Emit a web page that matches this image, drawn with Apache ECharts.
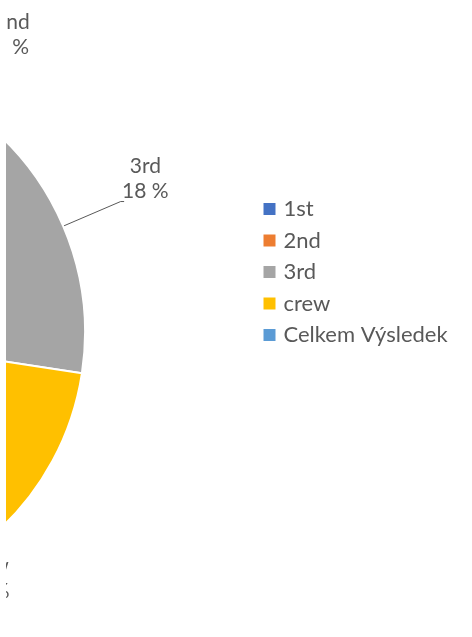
<!DOCTYPE html>
<html>
<head>
<meta charset="utf-8">
<script src="https://cdn.jsdelivr.net/npm/echarts@6/dist/echarts.min.js"></script>
<style>
  html, body { margin: 0; padding: 0; background: #ffffff; }
  #chart { position: absolute; left: 0; top: 0; width: 472px; height: 637px; clip-path: inset(0 0 0 6px); }
</style>
</head>
<body>
<div id="chart"></div>
<script>
// Data (Titanic – deaths by class, with grand total)
const categories = ['1st', '2nd', '3rd', 'crew', 'Celkem Výsledek'];
const values = [122, 167, 528, 673, 1490];

// Styles
const colors = ['#4472C4', '#ED7D31', '#A5A5A5', '#FFC000', '#5B9BD5'];
const textColor = '#595959';
const fontFamily = 'Lato, "Open Sans", sans-serif';
// per-slice label placement (leader line lengths / visibility)
const labelStyles = {
  '1st':  { show: true,  lineShow: false, length: 15, length2: 15 },
  '2nd':  { show: true,  lineShow: false, length: 32.5, length2: 54 },
  '3rd':  { show: true,  lineShow: true,  length: 62.5, length2: 3.5 },
  'crew': { show: true,  lineShow: false, length: 85.3, length2: -81.4 },
  'Celkem Výsledek': { show: false, lineShow: false, length: 15, length2: 15 }
};

const chart = echarts.init(document.getElementById('chart'), null, { renderer: 'canvas' });

const seriesData = categories.map((name, i) => {
  const s = labelStyles[name];
  return {
    name: name,
    value: values[i],
    itemStyle: { color: colors[i] },
    label: { show: s.show },
    labelLine: { show: s.lineShow, length: s.length, length2: s.length2 }
  };
});

chart.setOption({
  animation: false,
  backgroundColor: '#ffffff',
  legend: {
    orient: 'vertical',
    left: 258.5,
    top: 193,
    icon: 'rect',
    itemWidth: 12,
    itemHeight: 12,
    itemGap: 9.5,
    itemStyle: { borderWidth: 0 },
    formatter: function (name) { return '{t|' + name + '}'; },
    textStyle: {
      fontFamily: fontFamily, fontSize: 22, color: textColor,
      rich: { t: { fontFamily: fontFamily, fontSize: 22, color: textColor, padding: [0, 0, 0, 3] } }
    },
    data: categories
  },
  series: [{
    type: 'pie',
    center: [-185, 332.5],
    radius: 270,
    startAngle: 90,
    clockwise: true,
    avoidLabelOverlap: false,
    itemStyle: { borderColor: '#ffffff', borderWidth: 2 },
    label: {
      position: 'outside',
      distanceToLabelLine: -2,
      padding: [0, 0, 46, 0],
      fontFamily: fontFamily,
      fontSize: 21,
      color: textColor,
      lineHeight: 25,
      formatter: function (p) {
        return '{c|' + p.name + '}\n{c|' + Math.round(p.percent) + ' %}';
      },
      rich: {
        c: { align: 'center', fontFamily: fontFamily, fontSize: 21, color: textColor, lineHeight: 25 }
      }
    },
    labelLine: {
      lineStyle: { color: textColor, width: 1 }
    },
    emphasis: { disabled: true },
    data: seriesData
  }]
});
</script>
</body>
</html>
